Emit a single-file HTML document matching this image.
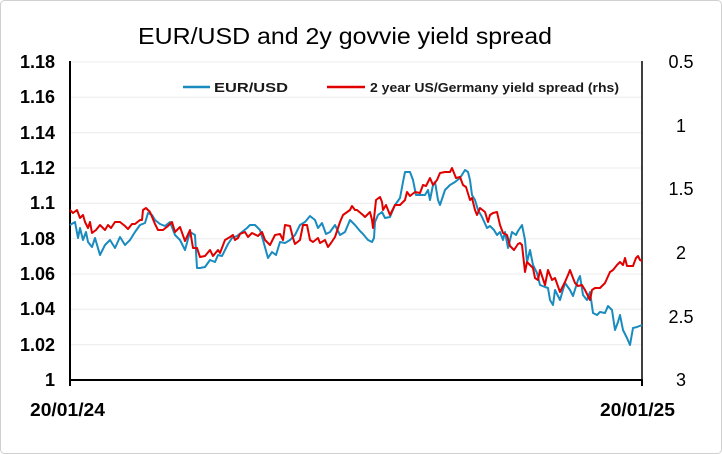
<!DOCTYPE html><html><head><style>body{margin:0;background:#fff}svg{display:block;font-family:"Liberation Sans",sans-serif}</style></head><body>
<svg width="722" height="454" viewBox="0 0 722 454">
<rect x="0.5" y="0.5" width="721" height="453" rx="4" fill="#fff" stroke="#d0d0d0"/>
<text x="138" y="44" font-size="23" textLength="414" lengthAdjust="spacingAndGlyphs" fill="#000">EUR/USD and 2y govvie yield spread</text>
<g stroke="#ececec" stroke-width="1">
<line x1="70" x2="642" y1="62" y2="62"/><line x1="70" x2="642" y1="97.3" y2="97.3"/><line x1="70" x2="642" y1="132.7" y2="132.7"/><line x1="70" x2="642" y1="168" y2="168"/><line x1="70" x2="642" y1="203.3" y2="203.3"/><line x1="70" x2="642" y1="238.7" y2="238.7"/><line x1="70" x2="642" y1="274" y2="274"/><line x1="70" x2="642" y1="309.3" y2="309.3"/><line x1="70" x2="642" y1="344.7" y2="344.7"/>
</g>
<g stroke="#000" stroke-width="2"><line x1="70" y1="61" x2="70" y2="381"/><line x1="69" y1="380" x2="643" y2="380"/><line x1="70" y1="380" x2="70" y2="386"/><line x1="642" y1="380" x2="642" y2="386"/></g>
<line x1="642" y1="61" x2="642" y2="381" stroke="#000" stroke-width="1.5"/>
<g font-size="18" font-weight="bold" text-anchor="end">
<text x="55" y="68">1.18</text><text x="55" y="103">1.16</text><text x="55" y="139">1.14</text><text x="55" y="174">1.12</text><text x="55" y="209">1.1</text><text x="55" y="245">1.08</text><text x="55" y="280">1.06</text><text x="55" y="315">1.04</text><text x="55" y="351">1.02</text><text x="55" y="386">1</text>
</g>
<g font-size="18" text-anchor="middle">
<text x="681" y="68">0.5</text><text x="681" y="132">1</text><text x="681" y="195">1.5</text><text x="681" y="259">2</text><text x="681" y="323">2.5</text><text x="681" y="386">3</text>
</g>
<g font-size="18" font-weight="bold"><text x="30" y="416" textLength="75" lengthAdjust="spacingAndGlyphs">20/01/24</text><text x="600" y="416" textLength="75" lengthAdjust="spacingAndGlyphs">20/01/25</text></g>
<line x1="183" y1="87" x2="210" y2="87" stroke="#1a8bbf" stroke-width="2.5"/>
<text x="214" y="92" font-size="13" font-weight="bold" fill="#1a1a1a" textLength="74" lengthAdjust="spacingAndGlyphs">EUR/USD</text>
<line x1="327" y1="87" x2="365" y2="87" stroke="#e00000" stroke-width="2.5"/>
<text x="370" y="92" font-size="13" font-weight="bold" fill="#1a1a1a" textLength="249" lengthAdjust="spacingAndGlyphs">2 year US/Germany yield spread (rhs)</text>
<polyline fill="none" stroke="#1a8bbf" stroke-width="2" stroke-linejoin="round" points="70,225 75,222 78,238 80,228 83,240 86,232 88,242 92,247 95,238 100,255 105,245 110,240 115,248 120,237 125,245 130,240 135,232 140,225 145,223 148,213 152,215 155,220 160,224 165,226 170,222 175,235 180,240 185,250 190,232 195,235 197,268 200,268 205,267 210,260 215,262 218,255 222,256 225,250 228,244 232,238 237,236 242,232 247,228 250,225 255,225 260,230 263,240 268,258 272,252 276,255 280,242 285,243 290,240 295,235 300,225 305,222 310,216 315,220 318,228 322,223 326,234 330,232 335,225 340,235 345,232 350,220 355,225 360,231 363,234 368,240 372,242 374,238 375,222 378,215 382,212 385,218 390,217 395,205 400,198 403,182 405,172 410,172 413,180 416,195 420,195 425,195 428,190 430,200 433,185 435,182 438,200 440,205 445,190 450,185 455,182 460,178 465,170 468,172 470,180 472,195 475,200 478,210 482,217 487,228 490,226 494,230 497,235 500,232 503,240 505,232 508,248 512,232 516,235 518,231 522,225 525,240 527,262 530,250 533,265 537,273 540,285 545,287 548,288 550,300 553,305 555,290 560,300 565,283 570,290 573,296 578,280 580,276 583,295 587,300 590,292 593,313 597,315 600,312 605,313 608,306 612,310 615,330 618,322 620,315 623,330 627,338 630,345 633,328 637,327 642,325"/>
<polyline fill="none" stroke="#e00000" stroke-width="2" stroke-linejoin="round" points="70,210 73,213 77,210 80,218 83,215 85,222 88,228 90,222 92,233 96,230 100,225 105,230 108,225 111,228 115,222 120,222 125,226 128,229 132,224 135,224 140,220 142,220 143,210 146,208 150,212 155,224 158,230 163,230 168,226 172,222 175,232 180,227 185,241 190,230 193,248 197,248 200,257 205,256 210,250 213,256 218,250 220,253 225,240 230,237 233,235 235,240 238,238 240,234 245,232 248,237 252,233 258,236 262,232 265,240 270,245 275,235 280,234 283,240 285,225 290,226 293,238 295,244 300,240 303,225 307,225 310,240 313,242 318,238 320,243 325,240 328,247 331,243 335,237 340,222 343,215 350,210 352,206 355,210 357,210 363,215 365,217 370,212 372,220 373,228 376,200 380,197 382,202 383,210 386,205 390,215 395,205 400,205 405,200 407,192 410,196 415,192 420,193 423,185 426,186 430,178 433,185 437,180 440,173 445,172 450,172 452,168 456,178 460,177 463,185 466,187 470,200 472,198 475,210 477,215 480,208 485,212 488,222 490,215 493,213 497,212 500,225 503,233 507,235 510,246 514,250 518,244 520,243 522,245 525,272 527,262 530,265 533,268 535,278 538,280 540,270 545,285 548,270 552,280 555,278 560,292 565,282 568,275 570,270 573,278 575,283 578,286 582,285 585,290 590,300 592,290 595,288 600,288 605,283 610,272 613,270 617,265 620,262 623,265 625,258 627,266 633,266 636,258 638,256 640,260 642,261"/>
</svg></body></html>
